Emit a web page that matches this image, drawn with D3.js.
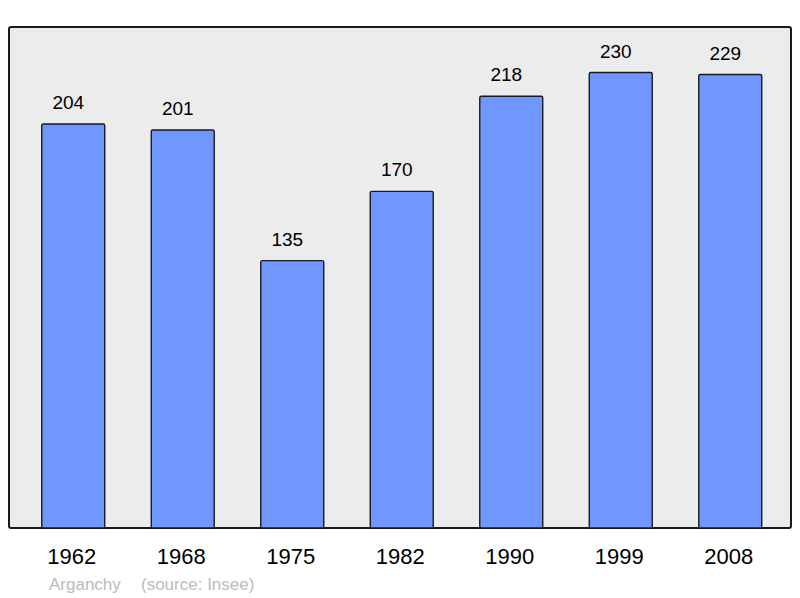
<!DOCTYPE html>
<html>
<head>
<meta charset="utf-8">
<script src="https://cdn.jsdelivr.net/npm/d3@7"></script>
<style>
  body { margin: 0; background: #fff; }
  svg { display: block; font-family: "Liberation Sans", Arial, sans-serif; }
</style>
</head>
<body>
<div id="chart"></div>
<script>
// Population data
var years = ["1962", "1968", "1975", "1982", "1990", "1999", "2008"];
var population = [204, 201, 135, 170, 218, 230, 229];
var commune = "Arganchy";
var source = "(source: Insee)";

var width = 800, height = 598;
var panel = { left: 9, top: 27, right: 791, bottom: 528 };

var svg = d3.select("#chart")
    .append("svg")
    .attr("width", width)
    .attr("height", height);

var xScale = d3.scaleBand()
    .domain(years)
    .range([18.5, 785])
    .paddingInner(0.425)
    .paddingOuter(0.2125);

var yScale = d3.scaleLinear()
    .domain([0, 253])
    .range([panel.bottom, panel.top]);

// Background panel
svg.append("rect")
    .attr("x", panel.left)
    .attr("y", panel.top)
    .attr("width", panel.right - panel.left)
    .attr("height", panel.bottom - panel.top)
    .attr("rx", 2)
    .attr("fill", "#ececec")
    .attr("stroke", "#1a1a1a")
    .attr("stroke-width", 2);

// Bars
svg.selectAll("rect.bar")
    .data(population)
    .enter()
    .append("rect")
    .attr("class", "bar")
    .attr("x", function (d, i) { return xScale(years[i]); })
    .attr("y", function (d) { return yScale(d); })
    .attr("width", xScale.bandwidth())
    .attr("height", function (d) { return yScale(0) - yScale(d); })
    .attr("rx", 1.5)
    .attr("fill", "#7097ff")
    .attr("stroke", "#1a1a1a")
    .attr("stroke-width", 1.4);

// Value labels (sit a little left of the bar centre, like the original)
svg.selectAll("text.value")
    .data(population)
    .enter()
    .append("text")
    .attr("class", "value")
    .attr("x", function (d, i) { return xScale(years[i]) + xScale.bandwidth() / 2 - 5; })
    .attr("y", function (d) { return yScale(d) - 15; })
    .attr("text-anchor", "middle")
    .style("font-size", "19px")
    .attr("fill", "#000")
    .text(function (d) { return d; });

// Year axis labels
var xAxis = svg.append("g")
    .attr("transform", "translate(0," + panel.bottom + ")")
    .call(d3.axisBottom(xScale).tickSize(0).tickPadding(36));
xAxis.select(".domain").remove();
xAxis.selectAll("text")
    .attr("dy", 0)
    .attr("x", -1.5)
    .style("font-size", "22px")
    .style("font-family", "Liberation Sans, Arial, sans-serif")
    .attr("fill", "#000");

// Footer
svg.append("text")
    .attr("x", 49)
    .attr("y", 590)
    .style("font-size", "17px")
    .attr("fill", "#bbbbbb")
    .text(commune);

svg.append("text")
    .attr("x", 141)
    .attr("y", 590)
    .style("font-size", "17px")
    .attr("fill", "#bbbbbb")
    .text(source);
</script>
</body>
</html>
